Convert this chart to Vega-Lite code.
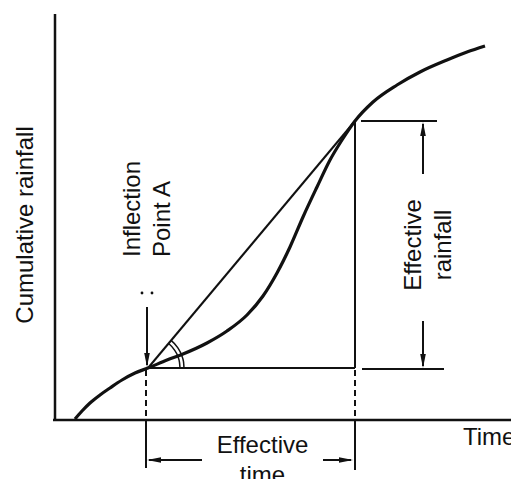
{
  "$schema": "https://vega.github.io/schema/vega-lite/v6.json",
  "width": 511,
  "height": 479,
  "padding": 0,
  "autosize": {"type": "none"},
  "background": "white",
  "config": {"view": {"stroke": null}},
  "datasets": {
    "axes": [
      {"t": 0, "r": 0, "t2": 0, "r2": 406},
      {"t": -2, "r": 0, "t2": 456, "r2": 0}
    ],
    "segments": [
      {"t": 93, "r": 52, "t2": 300, "r2": 299},
      {"t": 93, "r": 52, "t2": 300, "r2": 52},
      {"t": 300, "r": 52, "t2": 300, "r2": 299},
      {"t": 306, "r": 299, "t2": 382, "r2": 299},
      {"t": 307, "r": 51, "t2": 389, "r2": 51},
      {"t": 368, "r": 246, "t2": 368, "r2": 296},
      {"t": 368, "r": 99, "t2": 368, "r2": 54},
      {"t": 92, "r": 113, "t2": 92, "r2": 55},
      {"t": 91, "r": 0, "t2": 91, "r2": -48},
      {"t": 300, "r": 0, "t2": 300, "r2": -50},
      {"t": 94, "r": -40, "t2": 147, "r2": -40},
      {"t": 268, "r": -40, "t2": 296, "r2": -40}
    ],
    "dashed": [
      {"t": 91, "r": 50, "t2": 91, "r2": 0},
      {"t": 300, "r": 50, "t2": 300, "r2": 0}
    ],
    "arrows": [
      {"t": 92, "r": 53, "dir": "down"},
      {"t": 368, "r": 298, "dir": "up"},
      {"t": 368, "r": 52, "dir": "down"},
      {"t": 92, "r": -40, "dir": "left"},
      {"t": 298, "r": -40, "dir": "right"}
    ],
    "arcs": [
      {"arc": "inner", "ord": 1, "t": 113.6, "r": 76.5},
      {"arc": "inner", "ord": 2, "t": 119.2, "r": 70.4},
      {"arc": "inner", "ord": 3, "t": 123.1, "r": 62.9},
      {"arc": "inner", "ord": 4, "t": 124.5, "r": 57.6},
      {"arc": "inner", "ord": 5, "t": 125, "r": 52},
      {"arc": "outer", "ord": 1, "t": 116.1, "r": 79.6},
      {"arc": "outer", "ord": 2, "t": 122.5, "r": 72.6},
      {"arc": "outer", "ord": 3, "t": 126.8, "r": 64.3},
      {"arc": "outer", "ord": 4, "t": 128.5, "r": 58.3},
      {"arc": "outer", "ord": 5, "t": 129, "r": 52}
    ],
    "curve": [
      {"t": 20, "r": 1},
      {"t": 27, "r": 9},
      {"t": 35, "r": 17},
      {"t": 45, "r": 25},
      {"t": 55, "r": 32},
      {"t": 67, "r": 40},
      {"t": 80, "r": 47},
      {"t": 93, "r": 52},
      {"t": 112, "r": 60},
      {"t": 128, "r": 66},
      {"t": 152, "r": 77},
      {"t": 172, "r": 89},
      {"t": 192, "r": 105},
      {"t": 208, "r": 124},
      {"t": 222, "r": 147},
      {"t": 235, "r": 173},
      {"t": 248, "r": 203},
      {"t": 262, "r": 233},
      {"t": 275, "r": 260},
      {"t": 287, "r": 280},
      {"t": 300, "r": 299},
      {"t": 318, "r": 318},
      {"t": 342, "r": 335},
      {"t": 365, "r": 348},
      {"t": 392, "r": 360},
      {"t": 412, "r": 368},
      {"t": 430, "r": 374}
    ],
    "dots": [
      {"t": 87, "r": 127},
      {"t": 97, "r": 127}
    ],
    "vcenter": [
      {"t": -22, "r": 195, "label": "Cumulative rainfall"},
      {"t": 366, "r": 175, "label": "Effective\nrainfall"}
    ],
    "vleft": [
      {"t": 85, "r": 163, "label": "Inflection\nPoint A"}
    ],
    "hcenter": [
      {"t": 207.5, "r": -33, "label": "Effective\ntime"}
    ],
    "hleft": [
      {"t": 408, "r": -25, "label": "Time"}
    ]
  },
  "encoding": {
    "x": {"field": "t", "type": "quantitative", "scale": {"domain": [-55, 456], "nice": false, "zero": false}, "axis": null},
    "y": {"field": "r", "type": "quantitative", "scale": {"domain": [-59, 420], "nice": false, "zero": false}, "axis": null}
  },
  "layer": [
    {
      "data": {"name": "axes"},
      "mark": {"type": "rule", "color": "#111", "strokeWidth": 2.5},
      "encoding": {"x2": {"field": "t2"}, "y2": {"field": "r2"}}
    },
    {
      "data": {"name": "segments"},
      "mark": {"type": "rule", "color": "#111", "strokeWidth": 2},
      "encoding": {"x2": {"field": "t2"}, "y2": {"field": "r2"}}
    },
    {
      "data": {"name": "dashed"},
      "mark": {"type": "rule", "color": "#111", "strokeWidth": 2, "strokeDash": [6, 4]},
      "encoding": {"x2": {"field": "t2"}, "y2": {"field": "r2"}}
    },
    {
      "data": {"name": "arcs"},
      "mark": {"type": "line", "color": "#111", "strokeWidth": 1.5, "interpolate": "monotone"},
      "encoding": {"detail": {"field": "arc"}, "order": {"field": "ord", "type": "quantitative"}}
    },
    {
      "data": {"name": "curve"},
      "mark": {"type": "line", "color": "#111", "strokeWidth": 3.2, "interpolate": "monotone"},
      "encoding": {}
    },
    {
      "data": {"name": "arrows"},
      "mark": {"type": "point", "filled": true, "color": "#111", "opacity": 1, "size": 196},
      "encoding": {
        "shape": {
          "field": "dir", "type": "nominal", "legend": null,
          "scale": {
            "domain": ["down", "up", "left", "right"],
            "range": ["M0,0L-0.4,-2L0.4,-2Z", "M0,0L-0.4,2L0.4,2Z", "M0,0L2,-0.4L2,0.4Z", "M0,0L-2,-0.4L-2,0.4Z"]
          }
        }
      }
    },
    {
      "data": {"name": "dots"},
      "mark": {"type": "point", "filled": true, "color": "#111", "opacity": 1, "size": 8}
    },
    {
      "data": {"name": "vcenter"},
      "mark": {"type": "text", "angle": 270, "align": "center", "baseline": "alphabetic", "lineBreak": "\n", "lineHeight": 30, "font": "Liberation Sans", "fontSize": 24, "color": "#111"},
      "encoding": {"text": {"field": "label"}}
    },
    {
      "data": {"name": "vleft"},
      "mark": {"type": "text", "angle": 270, "align": "left", "baseline": "alphabetic", "lineBreak": "\n", "lineHeight": 30, "font": "Liberation Sans", "fontSize": 24, "color": "#111"},
      "encoding": {"text": {"field": "label"}}
    },
    {
      "data": {"name": "hcenter"},
      "mark": {"type": "text", "align": "center", "baseline": "alphabetic", "lineBreak": "\n", "lineHeight": 30, "font": "Liberation Sans", "fontSize": 24, "color": "#111"},
      "encoding": {"text": {"field": "label"}}
    },
    {
      "data": {"name": "hleft"},
      "mark": {"type": "text", "align": "left", "baseline": "alphabetic", "font": "Liberation Sans", "fontSize": 24, "color": "#111"},
      "encoding": {"text": {"field": "label"}}
    }
  ]
}
